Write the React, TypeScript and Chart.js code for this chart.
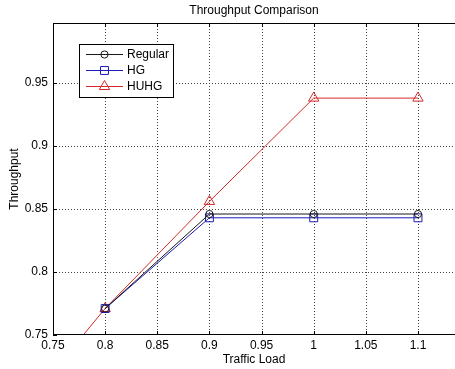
import React, { useEffect, useRef } from "react";
import { Chart, registerables } from "chart.js";

Chart.register(...registerables);

const titleText = "Throughput Comparison";
const xTitle = "Traffic Load";
const yTitle = "Throughput";

const seriesNames = ["Regular", "HG", "HUHG"];
const seriesColors = ["#1a1a1a", "#1c1cb8", "#d42a2a"];
const seriesMarkers = ["circle", "rect", "triangle"];
const markerRadii = [3.6, 5.6, 6];

const loads = [0.7, 0.8, 0.9, 1.0, 1.1];
const regularVals = [null, 0.771, 0.846, 0.846, 0.846];
const hgVals = [null, 0.771, 0.843, 0.843, 0.843];
const huhgVals = [0.671, 0.771, 0.856, 0.938, 0.938];

const xMin = 0.75;
const xMax = 1.1355;
const yMin = 0.75;
const yMax = 0.9976;
const tickStep = 0.05;

const FONT = "'Liberation Sans', Arial, sans-serif";
const FS = 12;

function toPoints(vals: (number | null)[]) {
  const pts: { x: number; y: number }[] = [];
  vals.forEach((v, i) => {
    if (v !== null) pts.push({ x: loads[i], y: v });
  });
  return pts;
}

function fmt(v: number) {
  return String(Number(v.toFixed(2)));
}

function drawMarker(ctx: CanvasRenderingContext2D, style: string, x: number, y: number, r: number) {
  ctx.beginPath();
  if (style === "circle") {
    ctx.arc(x, y, r, 0, Math.PI * 2);
  } else if (style === "rect") {
    const s = r * Math.SQRT1_2;
    ctx.rect(x - s, y - s, 2 * s, 2 * s);
  } else {
    const w = r * Math.sin(Math.PI / 3);
    ctx.moveTo(x, y - r);
    ctx.lineTo(x + w, y + r / 2);
    ctx.lineTo(x - w, y + r / 2);
    ctx.closePath();
  }
  ctx.stroke();
}

const decorPlugin = {
  id: "matlabDecor",
  beforeDatasetsDraw(chart: any) {
    const ctx = chart.ctx as CanvasRenderingContext2D;
    const a = chart.chartArea;
    const xs = chart.scales.x;
    const ys = chart.scales.y;
    ctx.save();
    ctx.strokeStyle = "#444";
    ctx.lineWidth = 1;
    ctx.setLineDash([1, 2]);
    ctx.beginPath();
    xs.ticks.forEach((t: any) => {
      const px = Math.round(xs.getPixelForValue(t.value)) + 0.5;
      if (px <= a.left + 1) return;
      ctx.moveTo(px, a.top);
      ctx.lineTo(px, a.bottom);
    });
    ys.ticks.forEach((t: any) => {
      const py = Math.round(ys.getPixelForValue(t.value)) + 0.5;
      if (py >= a.bottom - 1) return;
      ctx.moveTo(a.left, py);
      ctx.lineTo(a.right, py);
    });
    ctx.stroke();
    ctx.restore();
  },
  afterDraw(chart: any) {
    const ctx = chart.ctx as CanvasRenderingContext2D;
    const a = chart.chartArea;
    const xs = chart.scales.x;
    const ys = chart.scales.y;
    ctx.save();
    ctx.setLineDash([]);
    ctx.strokeStyle = "#000";
    ctx.lineWidth = 1;
    ctx.beginPath();
    ctx.moveTo(a.right, a.top + 0.5);
    ctx.lineTo(a.left + 0.5, a.top + 0.5);
    ctx.lineTo(a.left + 0.5, a.bottom - 0.5);
    ctx.lineTo(a.right, a.bottom - 0.5);
    ctx.stroke();
    ctx.beginPath();
    xs.ticks.forEach((t: any) => {
      const px = Math.round(xs.getPixelForValue(t.value)) + 0.5;
      ctx.moveTo(px, a.bottom);
      ctx.lineTo(px, a.bottom - 4);
      ctx.moveTo(px, a.top);
      ctx.lineTo(px, a.top + 4);
    });
    ys.ticks.forEach((t: any) => {
      const py = Math.round(ys.getPixelForValue(t.value)) + 0.5;
      ctx.moveTo(a.left, py);
      ctx.lineTo(a.left + 4, py);
    });
    ctx.stroke();

    ctx.fillStyle = "#000";
    ctx.font = `${FS}px ${FONT}`;
    ctx.textAlign = "center";
    ctx.textBaseline = "middle";
    ctx.fillText(titleText, (a.left + a.right) / 2, 11);

    const lx = 79.5, ly = 44.5, lw = 94, lh = 53;
    ctx.fillStyle = "#fff";
    ctx.fillRect(lx, ly, lw, lh);
    ctx.strokeStyle = "#000";
    ctx.strokeRect(lx, ly, lw, lh);
    ctx.textAlign = "left";
    seriesNames.forEach((name, i) => {
      const yy = 54.5 + i * 16;
      ctx.strokeStyle = seriesColors[i];
      ctx.lineWidth = 1;
      ctx.beginPath();
      ctx.moveTo(86, yy);
      ctx.lineTo(123, yy);
      ctx.stroke();
      drawMarker(ctx, seriesMarkers[i], 104.5, yy, markerRadii[i]);
      ctx.fillStyle = "#000";
      ctx.fillText(name, 127, yy + 0.5);
    });
    ctx.restore();
  },
};

export default function App() {
  const ref = useRef<HTMLCanvasElement | null>(null);
  useEffect(() => {
    document.body.style.margin = "0";
    const canvas = ref.current;
    if (!canvas) return;
    const vals = [regularVals, hgVals, huhgVals];
    const chart = new Chart(canvas, {
      type: "scatter",
      data: {
        datasets: seriesNames.map((name, i) => ({
          label: name,
          data: toPoints(vals[i]),
          showLine: true,
          borderColor: seriesColors[i],
          backgroundColor: "rgba(0,0,0,0)",
          borderWidth: 1,
          pointStyle: seriesMarkers[i] as any,
          pointRadius: markerRadii[i],
          pointHoverRadius: markerRadii[i],
          pointBorderWidth: 1,
          pointBorderColor: seriesColors[i],
          pointBackgroundColor: "rgba(0,0,0,0)",
          tension: 0,
        })),
      },
      options: {
        responsive: false,
        animation: false,
        events: [],
        layout: { autoPadding: false, padding: { top: 23, left: 0, right: 0, bottom: 0 } },
        plugins: {
          legend: { display: false },
          title: { display: false },
          tooltip: { enabled: false },
        },
        scales: {
          x: {
            type: "linear",
            min: xMin,
            max: xMax,
            ticks: {
              stepSize: tickStep,
              includeBounds: false,
              autoSkip: false,
              maxRotation: 0,
              padding: 3,
              color: "#000",
              font: { family: FONT, size: FS },
              callback: (v: any) => fmt(Number(v)),
            },
            grid: { display: false, drawTicks: false },
            border: { display: false },
            title: {
              display: true,
              text: xTitle,
              color: "#000",
              font: { family: FONT, size: FS },
              padding: { top: 0, bottom: 2 },
            },
            afterFit: (s: any) => {
              s.height = 34;
              s.paddingRight = 0;
              s.paddingLeft = 0;
            },
          },
          y: {
            type: "linear",
            min: yMin,
            max: yMax,
            ticks: {
              stepSize: tickStep,
              includeBounds: false,
              autoSkip: false,
              padding: 5,
              color: "#000",
              font: { family: FONT, size: FS },
              callback: (v: any) => fmt(Number(v)),
            },
            grid: { display: false, drawTicks: false },
            border: { display: false },
            title: {
              display: true,
              text: yTitle,
              color: "#000",
              font: { family: FONT, size: FS },
              padding: { top: 7, bottom: 0 },
            },
            afterFit: (s: any) => {
              s.width = 53;
              s.paddingTop = 0;
              s.paddingBottom = 0;
            },
          },
        },
      },
      plugins: [decorPlugin],
    });
    return () => chart.destroy();
  }, []);
  return (
    <div style={{ position: "absolute", left: 0, top: 0, width: 455, height: 369 }}>
      <canvas ref={ref} width={455} height={369} style={{ width: 455, height: 369 }} />
    </div>
  );
}
